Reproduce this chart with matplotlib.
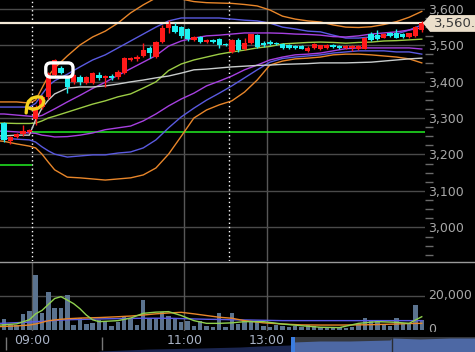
import numpy as np
import matplotlib
matplotlib.use('Agg')
import matplotlib.pyplot as plt
import matplotlib.transforms as mtrans
from matplotlib.ticker import MultipleLocator, FuncFormatter, FixedLocator
from matplotlib.patches import Polygon, FancyBboxPatch, Rectangle
from matplotlib.lines import Line2D

# ---- 5 minute candles (5 bars of the previous day, then 09:00 .. 15:00) ----
opens = [3285, 3237, 3248, 3256, 3262, 3298, 3330, 3358, 3418, 3437,
         3412, 3398, 3412, 3396, 3396, 3418, 3410, 3415, 3412, 3423,
         3458, 3462, 3470, 3492, 3468, 3509, 3547, 3552, 3549, 3544,
         3514, 3522, 3508, 3514, 3516, 3502, 3482, 3514, 3490, 3505,
         3527, 3505, 3508, 3505, 3503, 3500, 3497, 3497, 3484, 3492,
         3489, 3492, 3500, 3498, 3493, 3492, 3490, 3490, 3530, 3527,
         3520, 3533, 3534, 3530, 3522, 3525, 3540]
highs = [3290, 3252, 3258, 3280, 3270, 3335, 3362, 3425, 3462, 3442,
         3415, 3420, 3418, 3414, 3426, 3425, 3418, 3420, 3432, 3467,
         3468, 3472, 3506, 3497, 3512, 3555, 3568, 3560, 3552, 3546,
         3525, 3525, 3516, 3516, 3520, 3505, 3516, 3518, 3519, 3531,
         3530, 3512, 3513, 3508, 3506, 3503, 3500, 3499, 3496, 3505,
         3501, 3503, 3502, 3500, 3499, 3500, 3500, 3522, 3535, 3540,
         3532, 3536, 3545, 3533, 3534, 3552, 3565]
lows = [3235, 3230, 3244, 3250, 3258, 3282, 3325, 3352, 3414, 3420,
        3368, 3392, 3390, 3392, 3394, 3405, 3385, 3404, 3408, 3420,
        3455, 3455, 3466, 3464, 3465, 3505, 3533, 3532, 3520, 3512,
        3511, 3505, 3505, 3506, 3492, 3498, 3478, 3481, 3486, 3503,
        3493, 3494, 3500, 3499, 3490, 3490, 3489, 3488, 3481, 3490,
        3486, 3488, 3491, 3490, 3490, 3484, 3487, 3488, 3512, 3515,
        3518, 3522, 3518, 3520, 3520, 3523, 3535]
closes = [3240, 3247, 3256, 3264, 3266, 3330, 3358, 3420, 3458, 3423,
          3385, 3418, 3399, 3412, 3423, 3410, 3415, 3410, 3426, 3464,
          3464, 3468, 3486, 3478, 3509, 3547, 3558, 3536, 3524, 3516,
          3522, 3508, 3514, 3508, 3500, 3500, 3514, 3486, 3505, 3529,
          3495, 3499, 3503, 3502, 3492, 3492, 3491, 3490, 3493, 3502,
          3499, 3500, 3494, 3493, 3497, 3498, 3498, 3520, 3515, 3517,
          3530, 3525, 3520, 3522, 3532, 3548, 3560]
# volume in thousands of shares
volume = [6.5, 3.0, 3.0, 9.4, 11.2, 32.3, 10.0, 22.3, 13.0, 13.0,
          20.5, 3.0, 7.0, 3.5, 4.0, 6.0, 5.3, 2.4, 4.7, 7.6,
          7.0, 3.0, 17.6, 7.0, 7.0, 10.6, 8.2, 7.0, 4.7, 5.3,
          2.4, 5.3, 2.4, 1.8, 10.0, 1.8, 10.0, 3.5, 5.3, 5.3,
          4.7, 2.4, 1.8, 3.0, 2.4, 1.8, 2.4, 1.8, 3.0, 2.4,
          1.8, 1.8, 1.2, 1.8, 1.2, 1.8, 3.5, 7.0, 5.3, 6.0,
          3.5, 2.4, 7.0, 4.1, 4.1, 14.7, 6.0]

# ---- indicator lines read at these bar positions ----
line_x = [-0.6, 0, 2, 4, 5, 6, 7, 8, 10, 12, 14, 16, 18, 20, 22, 24, 26, 28, 30,
          32, 34, 36, 38, 40, 42, 44, 46, 48, 50, 52, 54, 56, 58, 60, 62, 64, 66]
band3_up = [3344, 3344, 3344, 3341, 3349, 3382, 3415, 3437, 3470, 3500, 3522, 3538,
            3560, 3588, 3610, 3629, 3632, 3626, 3619, 3616, 3615, 3614, 3611, 3607,
            3596, 3579, 3571, 3566, 3563, 3555, 3549, 3548, 3550, 3556, 3564, 3576, 3592]
band2_up = [3330, 3330, 3330, 3330, 3340, 3365, 3388, 3402, 3420, 3440, 3459, 3473,
            3492, 3511, 3530, 3549, 3566, 3574, 3574, 3574, 3574, 3571, 3568, 3566,
            3560, 3549, 3544, 3538, 3536, 3527, 3519, 3519, 3522, 3525, 3530, 3541, 3555]
band1_up = [3311, 3311, 3308, 3305, 3303, 3307, 3316, 3325, 3344, 3362, 3381, 3398,
            3417, 3435, 3453, 3471, 3497, 3511, 3519, 3525, 3527, 3530, 3533, 3533,
            3533, 3532, 3530, 3529, 3527, 3523, 3522, 3525, 3530, 3533, 3536, 3541, 3547]
mid_line = [3286, 3286, 3285, 3285, 3286, 3292, 3300, 3305, 3316, 3327, 3338, 3347,
            3358, 3366, 3382, 3399, 3430, 3448, 3459, 3467, 3475, 3481, 3486, 3492,
            3496, 3503, 3505, 3507, 3508, 3507, 3505, 3507, 3508, 3511, 3512, 3514, 3516]
band1_lo = [3264, 3264, 3262, 3259, 3258, 3253, 3251, 3248, 3249, 3253, 3259, 3268,
            3273, 3278, 3292, 3311, 3333, 3352, 3368, 3388, 3401, 3415, 3432, 3445,
            3459, 3467, 3473, 3475, 3478, 3484, 3490, 3492, 3492, 3492, 3492, 3492, 3489]
band2_lo = [3245, 3245, 3242, 3240, 3234, 3221, 3210, 3201, 3193, 3196, 3199, 3199,
            3204, 3207, 3218, 3240, 3273, 3303, 3327, 3349, 3368, 3388, 3410, 3432,
            3453, 3463, 3467, 3470, 3473, 3478, 3481, 3484, 3484, 3484, 3481, 3481, 3475]
band3_lo = [3237, 3236, 3229, 3223, 3218, 3201, 3179, 3158, 3138, 3136, 3133, 3130,
            3133, 3136, 3144, 3163, 3201, 3250, 3300, 3322, 3336, 3347, 3371, 3404,
            3445, 3456, 3462, 3464, 3467, 3473, 3475, 3475, 3473, 3470, 3467, 3462, 3451]
vwap = [3251, 3251, 3253, 3253, 3295, 3327, 3349, 3366, 3382, 3385, 3385, 3388,
        3393, 3399, 3404, 3410, 3415, 3423, 3432, 3434, 3437, 3440, 3442, 3444,
        3445, 3447, 3448, 3449, 3451, 3451, 3451, 3452, 3453, 3456, 3459, 3462, 3464]

vol_ma_x = [-0.6, 2, 4, 5, 6, 7, 8, 9, 10, 11, 12, 13, 14, 15, 18, 20, 22, 24, 26,
            28, 30, 32, 34, 36, 38, 41, 44, 47, 50, 53, 56, 59, 62, 64, 66]
vol_ma_short = [2.9, 3.6, 6.0, 9.5, 11.5, 15.0, 18.5, 19.6, 17.6, 15.5, 12.5, 8.8,
                6.0, 4.9, 5.5, 7.0, 9.8, 10.5, 10.8, 8.5, 5.5, 3.9, 3.9, 4.2, 4.9,
                4.9, 3.5, 2.5, 1.6, 1.4, 3.9, 4.9, 4.5, 3.9, 7.8]
vol_ma_mid = [2.0, 2.4, 2.9, 3.5, 4.5, 5.4, 5.9, 6.3, 6.6, 6.8, 7.0, 7.1, 7.2, 7.3,
              7.8, 8.2, 8.8, 9.5, 10.0, 10.4, 9.5, 8.5, 7.5, 6.9, 5.5, 4.2, 3.5, 3.0,
              2.9, 2.9, 3.0, 3.2, 3.5, 3.8, 3.9]
vol_ma_long = [3.9, 4.3, 4.6, 4.9, 5.1, 5.3, 5.6, 5.8, 6.0, 6.1, 6.2, 6.3, 6.4, 6.5,
               6.7, 6.8, 6.9, 6.9, 6.9, 6.7, 6.5, 6.3, 6.2, 6.0, 5.9, 5.7, 5.5, 5.5,
               5.5, 5.5, 5.5, 5.5, 5.5, 5.5, 5.5]

last_price = 3560
ref_today = 3262
ref_prev = 3172
session_starts = [4.5, 35.5]
time_ticks = [4.5, 28.5, 41.5]
time_labels = ['09:00', '11:00', '13:00']

# hand drawn marks on the chart (bar index, price)
white_box = (6.6, 3412, 4.3, 39)
yellow_x = [3.5, 3.6, 3.85, 4.4, 5.2, 5.95, 6.3, 6.1, 5.4, 4.6, 4.0]
yellow_y = [3314, 3331, 3345, 3354, 3358, 3357, 3347, 3336, 3327, 3324, 3327]

# navigator strip at the bottom (pixel positions)
nav_x = [0, 95, 100, 150, 200, 240, 260, 290, 293, 320, 350, 390, 392, 420, 450, 475]
nav_top = [352, 352, 351, 349, 348, 347, 346, 345, 342, 341, 341, 340, 338, 339, 338, 338]

RED = '#ff1a1a'
CYAN = '#1ef0f0'
TXT = '#a8a8a8'
LW = 1.0

W, H = 475, 352
fig = plt.figure(figsize=(W / 100, H / 100), dpi=100, facecolor='black')


def box(l, t, r, b):
    return [l / W, 1 - b / H, (r - l) / W, (b - t) / H]


ax = fig.add_axes(box(0, 0, 425, 261))
axv = fig.add_axes(box(0, 262, 425, 331))
axn = fig.add_axes(box(0, 331.5, 475, 352))
for a in (ax, axv, axn):
    a.set_facecolor('black')
    for s in a.spines.values():
        s.set_visible(False)

xlim = (-0.632, 66.51)
idx = np.arange(len(opens))
o, h, l, c = map(np.array, (opens, highs, lows, closes))

# ---- price panel ----
ax.set_xlim(*xlim)
ax.set_ylim(2908.2, 3623.3)
ax.set_xticks([])
ax.yaxis.tick_right()
ax.yaxis.set_major_locator(MultipleLocator(100))
ax.yaxis.set_minor_locator(MultipleLocator(25))
ax.yaxis.set_major_formatter(FuncFormatter(lambda v, p: f'{v:,.0f}'))
ax.tick_params(axis='y', which='major', length=0, pad=2, labelsize=9, labelcolor=TXT)
ax.tick_params(axis='y', which='minor', length=6, width=1, color='#6a6a6a')
ax.grid(axis='y', which='major', color='#4a4a4a', lw=1)
for x in (28.5, 41.5):
    ax.axvline(x, color='#575757', lw=1, zorder=1)
for x in session_starts:
    ax.axvline(x, color='white', lw=1, ls=(0, (1, 2)), zorder=2)

ax.hlines(ref_today, session_starts[0], xlim[1], color='#22ee22', lw=1.1, zorder=2)
ax.hlines(ref_prev, xlim[0], session_starts[0], color='#22ee22', lw=1.1, zorder=2)

ax.plot(line_x, band3_up, color='#e8862a', lw=LW, zorder=3)
ax.plot(line_x, band3_lo, color='#e8862a', lw=LW, zorder=3)
ax.plot(line_x, band2_up, color='#5a5ae0', lw=LW, zorder=3)
ax.plot(line_x, band2_lo, color='#5a5ae0', lw=LW, zorder=3)
ax.plot(line_x, band1_up, color='#a640e0', lw=LW, zorder=3)
ax.plot(line_x, band1_lo, color='#a640e0', lw=LW, zorder=3)
ax.plot(line_x, mid_line, color='#9ccc45', lw=LW, zorder=3)
ax.plot(line_x, vwap, color='#c8cccc', lw=LW, zorder=3)
ax.axhline(last_price, color='#f4ead8', lw=1.6, zorder=4)

col = np.where(c >= o, RED, CYAN)
ax.vlines(idx, l, h, colors=col, lw=1, zorder=5)
ax.bar(idx, np.maximum(np.abs(c - o), 1.8), 0.84, bottom=np.minimum(o, c),
       color=col, lw=0, zorder=6)

bx, by, bw, bh = white_box
ax.add_patch(FancyBboxPatch((bx, by), bw, bh, boxstyle='round,pad=0,rounding_size=0.8',
                            mutation_aspect=17.3, fill=False, edgecolor='white',
                            lw=2.4, zorder=8))
ax.plot(yellow_x, yellow_y, color='#f5d21e', lw=2.4, solid_capstyle='round',
        solid_joinstyle='round', zorder=8)

ytr = ax.get_yaxis_transform()
ax.add_patch(Polygon([[0.995, last_price], [1.012, last_price + 22], [1.3, last_price + 22],
                      [1.3, last_price - 24], [1.012, last_price - 24]], closed=True,
                     transform=ytr, clip_on=False, facecolor='#ebdfcb', edgecolor='none',
                     zorder=10))
ax.text(1.02, last_price, f'{last_price:,}.', transform=ytr, ha='left', va='center',
        fontsize=9.5, color='#3a3a3a', zorder=11, clip_on=False)

# ---- volume panel ----
axv.set_xlim(*xlim)
axv.set_ylim(-0.6, 40.0)
axv.set_xticks([])
axv.yaxis.tick_right()
axv.yaxis.set_major_locator(FixedLocator([0, 20]))
axv.yaxis.set_major_formatter(FuncFormatter(lambda v, p: f'{v * 1000:,.0f}'))
axv.tick_params(axis='y', length=0, pad=2, labelsize=9, labelcolor=TXT)
for t in axv.get_yticklabels():
    t.set_va('center')
axv.axhline(20, color='#4a4a4a', lw=1, zorder=1)
for x in time_ticks:
    axv.axvline(x, color='#575757', lw=1, zorder=1)
axv.bar(idx, volume, 0.7, color='#5b738f', lw=0, zorder=2)
axv.plot(vol_ma_x, vol_ma_long, color='#5a5ae6', lw=LW, zorder=3)
axv.plot(vol_ma_x, vol_ma_mid, color='#e8862a', lw=LW, zorder=3)
axv.plot(vol_ma_x, vol_ma_short, color='#8fd14f', lw=LW, zorder=4)

fig.add_artist(Line2D([0, 1], [1 - 261.5 / H] * 2, color='#9a9a9a', lw=1,
                      transform=fig.transFigure))

# ---- time axis / navigator strip ----
axn.set_xlim(0, W)
axn.set_ylim(352, 331.5)
axn.set_xticks([])
axn.set_yticks([])
axn.fill_between(nav_x[:9], nav_top[:9], 352, color='#1b2650', lw=0)
axn.add_patch(Rectangle((293, 337), W - 293, 15, color='#34373d', lw=0))
axn.fill_between(nav_x[8:], nav_top[8:], 352, color='#4d68a4', lw=0, zorder=3)
axn.vlines(392, 337, 352, color='#2a2d33', lw=1, zorder=4)
axn.add_patch(Rectangle((291, 337), 3.5, 15, color='#3b7de0', lw=0, zorder=5))
axn.vlines([6, 102], 337, 350, color='#777777', lw=1)
ttr = mtrans.blended_transform_factory(ax.transData, axn.transData)
for x, t in zip(time_ticks, time_labels):
    axn.text(x, 340.5, t, transform=ttr, ha='center', va='center', fontsize=9,
             color='#a9b3c6', zorder=6)

fig.savefig('out.png', dpi=100, facecolor='black')
